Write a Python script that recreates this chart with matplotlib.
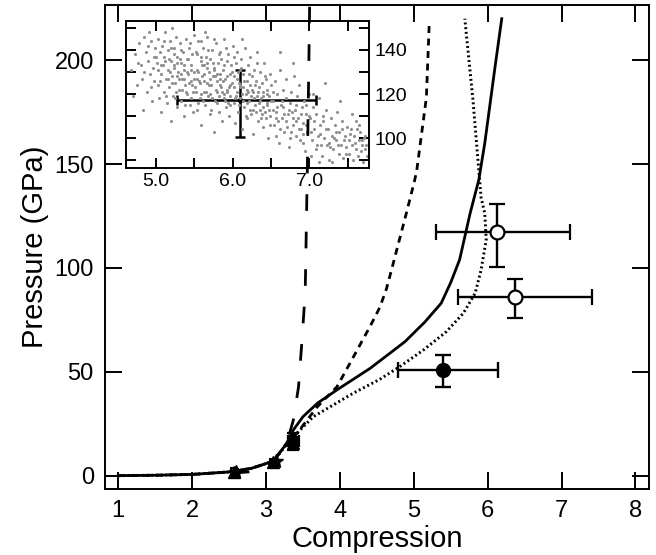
import matplotlib
matplotlib.use('Agg')
import numpy as np
import matplotlib.pyplot as plt

plt.rcParams['font.family'] = ['Liberation Sans', 'DejaVu Sans']
plt.rcParams['lines.scale_dashes'] = False

# model curves, pressure (GPa) against compression
solid_x = [1.0, 1.5, 2.0, 2.5, 2.8, 3.1, 3.28, 3.37, 3.5, 3.7, 3.96, 4.41, 4.88,
           5.15, 5.37, 5.5, 5.62, 5.76, 5.88, 5.96, 6.1, 6.19]
solid_y = [0, 0.2, 0.6, 1.8, 3.5, 7, 15.6, 22, 28.4, 35, 41.3, 51.7, 64.5,
           74, 83, 93, 104, 126, 142.5, 160, 197, 220]

dash_x = [1.0, 1.5, 2.0, 2.5, 2.8, 3.1, 3.28, 3.41, 3.69, 3.96, 4.18, 4.41, 4.54,
          4.63, 4.72, 4.90, 5.01, 5.04, 5.17, 5.21]
dash_y = [0, 0.2, 0.6, 1.8, 3.5, 7, 15.6, 20, 33, 42.8, 57, 72, 81,
          90, 102, 126.5, 142, 147, 182, 219]

dot_x = [1.0, 1.5, 2.0, 2.5, 2.8, 3.1, 3.28, 3.46, 3.64, 4.18, 4.54, 4.81, 5.13,
         5.44, 5.67, 5.83, 5.91, 5.98, 5.96, 5.91, 5.80, 5.69]
dot_y = [0, 0.2, 0.6, 1.8, 3.5, 7, 15, 22, 28.4, 39.7, 46.4, 52.5, 60.5,
         69.3, 78.2, 87.8, 99, 113.5, 126.3, 134, 181, 220]

longdash_x = [2.55, 2.9, 3.1, 3.28, 3.37, 3.44, 3.48, 3.53, 3.56, 3.59]
longdash_y = [1.2, 2.2, 7, 15.6, 26.8, 42.8, 62, 88, 150, 226]

# measurements with error bars
fill_x, fill_y = [5.40], [51]
fill_xerr = [[0.61], [0.74]]
fill_yerr = [[8.2], [7.2]]

open_x = [6.13, 6.37]
open_y = [117.5, 86.2]
open_xerr = [[0.83, 0.77], [0.99, 1.04]]
open_yerr = [[17.2, 10.4], [13.5, 8.7]]

# low pressure points
tri_x, tri_y = [2.57, 3.10, 3.36], [2.0, 6.5, 15.5]
star_x, star_y = [2.59, 3.13], [1.8, 7.0]
sq_x, sq_y = [3.37], [16.5]

# inset: sample cloud and its mean
cloud = [
    (4.68, 131), (4.72, 138), (4.75, 124), (4.78, 143), (4.80, 133), (4.82, 127), (4.85, 146),
    (4.87, 139), (4.88, 121), (4.90, 135), (4.92, 129), (4.94, 144), (4.95, 117), (4.97, 137),
    (4.98, 126), (4.70, 119), (4.83, 113), (4.91, 148), (4.96, 132), (4.99, 141),
    (5.01, 134), (5.02, 124), (5.03, 145), (5.04, 118), (5.05, 139), (5.06, 129), (5.07, 112),
    (5.08, 142), (5.09, 133), (5.10, 121), (5.11, 137), (5.12, 148), (5.13, 127), (5.14, 116),
    (5.15, 140), (5.16, 131), (5.17, 123), (5.18, 144), (5.19, 108), (5.20, 135), (5.21, 128),
    (5.22, 119), (5.23, 141), (5.24, 132), (5.25, 125), (5.26, 146), (5.27, 114), (5.28, 137),
    (5.29, 130), (5.30, 122), (5.31, 143), (5.32, 134), (5.33, 117), (5.34, 127), (5.35, 139),
    (5.36, 110), (5.37, 131), (5.38, 124), (5.39, 145), (5.40, 136), (5.41, 120), (5.42, 129),
    (5.43, 141), (5.44, 115), (5.45, 133), (5.46, 126), (5.47, 138), (5.48, 121), (5.49, 147),
    (5.50, 130), (5.05, 126), (5.12, 135), (5.18, 130), (5.24, 138), (5.30, 127), (5.36, 133),
    (5.42, 136), (5.47, 124), (5.03, 131), (5.15, 127), (5.27, 134), (5.33, 129), (5.39, 121),
    (5.45, 118), (5.21, 150),
    (5.51, 123), (5.52, 139), (5.53, 113), (5.54, 131), (5.55, 144), (5.56, 126), (5.57, 118),
    (5.58, 135), (5.59, 106), (5.60, 128), (5.61, 141), (5.62, 121), (5.63, 133), (5.64, 115),
    (5.65, 137), (5.66, 125), (5.67, 146), (5.68, 119), (5.69, 130), (5.70, 111), (5.71, 136),
    (5.72, 124), (5.73, 140), (5.74, 128), (5.75, 103), (5.76, 132), (5.77, 117), (5.78, 143),
    (5.79, 126), (5.80, 121), (5.81, 134), (5.82, 112), (5.83, 129), (5.84, 139), (5.85, 123),
    (5.86, 108), (5.87, 131), (5.88, 118), (5.89, 145), (5.90, 127), (5.91, 114), (5.92, 135),
    (5.93, 122), (5.94, 138), (5.95, 110), (5.96, 129), (5.97, 119), (5.98, 133), (5.99, 125),
    (6.00, 142), (5.53, 127), (5.58, 120), (5.62, 129), (5.66, 132), (5.71, 120), (5.74, 134),
    (5.79, 116), (5.83, 124), (5.87, 126), (5.92, 121), (5.96, 124), (5.55, 116), (5.64, 148),
    (5.69, 124), (5.77, 128), (5.85, 136), (5.94, 116), (5.60, 133), (5.72, 113), (5.89, 120),
    (6.01, 116), (6.02, 128), (6.03, 107), (6.04, 134), (6.05, 121), (6.06, 139), (6.07, 112),
    (6.08, 125), (6.09, 131), (6.10, 118), (6.11, 136), (6.12, 104), (6.13, 123), (6.14, 129),
    (6.15, 114), (6.16, 141), (6.17, 120), (6.18, 126), (6.19, 109), (6.20, 133), (6.21, 117),
    (6.22, 124), (6.23, 137), (6.24, 111), (6.25, 128), (6.26, 102), (6.27, 121), (6.28, 131),
    (6.29, 115), (6.30, 126), (6.31, 119), (6.32, 139), (6.33, 108), (6.34, 123), (6.35, 113),
    (6.36, 130), (6.37, 118), (6.38, 125), (6.39, 105), (6.40, 121), (6.41, 134), (6.42, 112),
    (6.43, 127), (6.44, 116), (6.45, 122), (6.46, 100), (6.47, 119), (6.48, 129), (6.49, 110),
    (6.50, 124), (6.04, 119), (6.09, 123), (6.14, 117), (6.19, 122), (6.24, 119), (6.29, 124),
    (6.34, 116), (6.39, 114), (6.44, 120), (6.07, 130), (6.17, 110), (6.27, 113), (6.37, 109),
    (6.47, 113), (6.12, 145),
    (6.52, 117), (6.54, 106), (6.55, 126), (6.57, 112), (6.58, 120), (6.60, 98), (6.61, 131),
    (6.63, 115), (6.64, 109), (6.66, 122), (6.67, 103), (6.69, 118), (6.70, 127), (6.72, 111),
    (6.73, 96), (6.75, 116), (6.76, 121), (6.78, 106), (6.79, 134), (6.81, 113), (6.82, 101),
    (6.84, 119), (6.85, 109), (6.87, 124), (6.88, 99), (6.90, 114), (6.91, 107), (6.93, 117),
    (6.94, 94), (6.96, 111), (6.97, 103), (6.99, 120), (6.53, 113), (6.59, 108), (6.65, 114),
    (6.71, 105), (6.77, 112), (6.83, 108), (6.89, 104), (6.95, 115), (6.62, 139), (6.80, 128),
    (6.56, 101), (6.74, 100), (6.92, 98),
    (7.01, 109), (7.03, 99), (7.04, 114), (7.06, 104), (7.08, 95), (7.09, 111), (7.11, 101),
    (7.13, 118), (7.14, 106), (7.16, 92), (7.18, 108), (7.19, 100), (7.21, 113), (7.23, 97),
    (7.24, 104), (7.26, 90), (7.28, 109), (7.29, 101), (7.31, 95), (7.33, 106), (7.34, 99),
    (7.36, 112), (7.38, 93), (7.39, 103), (7.41, 97), (7.43, 108), (7.44, 91), (7.46, 101),
    (7.48, 96), (7.49, 105), (7.05, 120), (7.15, 97), (7.25, 98), (7.35, 103), (7.45, 99),
    (7.12, 89), (7.30, 89), (7.40, 117), (7.20, 125), (7.02, 92),
    (7.51, 99), (7.52, 93), (7.54, 104), (7.55, 97), (7.57, 90), (7.58, 101), (7.60, 95),
    (7.61, 108), (7.63, 92), (7.64, 99), (7.66, 103), (7.67, 94), (7.69, 97), (7.70, 89),
    (7.72, 101), (7.73, 95), (7.75, 92), (7.56, 111), (7.65, 106), (7.71, 100),
    (5.21, 125), (5.23, 133), (5.26, 121), (5.28, 128), (5.31, 136), (5.34, 122), (5.37, 127),
    (5.40, 130), (5.43, 125), (5.46, 131), (5.49, 127), (5.52, 121), (5.55, 130), (5.57, 125),
    (5.59, 137), (5.61, 117), (5.63, 126), (5.65, 121), (5.67, 134), (5.70, 127), (5.73, 118),
    (5.75, 131), (5.78, 122), (5.80, 129), (5.82, 119), (5.84, 127), (5.86, 121), (5.88, 133),
    (5.90, 117), (5.93, 128), (5.95, 123), (5.97, 115), (5.99, 130), (6.01, 123), (6.03, 118),
    (6.05, 127), (6.08, 115), (6.10, 124), (6.12, 120), (6.15, 126), (6.18, 116), (6.20, 121),
    (6.22, 113), (6.25, 122), (6.28, 118), (6.30, 112), (6.33, 121), (6.35, 117), (6.38, 111),
    (6.40, 119), (6.43, 109), (6.45, 115), (6.48, 106), (6.50, 117), (6.53, 121), (6.56, 109),
    (6.58, 114), (6.61, 104), (6.64, 117), (6.67, 111), (6.70, 108), (6.73, 113), (6.76, 103),
    (6.79, 109), (6.82, 115), (6.86, 104), (6.89, 111), (6.92, 102), (6.96, 106), (6.99, 110),
    (7.02, 103), (7.06, 108), (7.10, 97), (7.14, 102), (7.17, 110), (7.22, 104), (7.27, 96),
    (7.32, 100), (7.37, 97), (7.42, 104), (7.47, 93), (7.53, 102), (7.59, 98), (7.62, 104),
    (7.68, 99), (7.74, 97), (4.76, 134), (4.84, 130), (4.89, 142), (4.93, 123), (5.00, 137),
    (5.07, 133), (5.10, 144), (5.13, 119), (5.17, 136), (5.19, 141), (5.25, 118), (5.32, 140),
    (5.38, 115), (5.44, 143), (5.48, 112), (5.54, 138), (5.58, 144), (5.68, 140), (5.75, 145),
    (5.82, 138), (5.91, 141), (6.02, 137), (6.11, 132), (6.21, 129), (6.31, 134), (6.42, 128),
]
mean_x, mean_y = [6.1], [117.5]
mean_xerr = [[0.83], [0.99]]
mean_yerr = [[16.9], [13.5]]

fig = plt.figure(figsize=(6.56, 5.55), dpi=100)
ax = fig.add_axes([0.160, 0.119, 0.829, 0.872])

ax.plot(solid_x, solid_y, color='k', lw=2.0)
ax.plot(dash_x, dash_y, color='k', lw=2.0, dashes=(5, 4))
ax.plot(dot_x, dot_y, color='k', lw=2.1, dashes=(1.4, 2.0))

ax.errorbar(fill_x, fill_y, xerr=fill_xerr, yerr=fill_yerr, fmt='o', ms=10,
            mfc='k', mec='k', ecolor='k', elinewidth=1.7, capsize=5.7, capthick=1.7)
ax.errorbar(open_x, open_y, xerr=open_xerr, yerr=open_yerr, fmt='o', ms=10,
            mfc='white', mec='k', mew=1.6, ecolor='k', elinewidth=1.7,
            capsize=5.7, capthick=1.7, zorder=3)

ax.errorbar(tri_x, tri_y, xerr=0.05, yerr=1.5, fmt='^', ms=8, color='k',
            elinewidth=1.5, capsize=3, capthick=1.5)
ax.plot(star_x, star_y, '*', ms=10, color='k')
ax.errorbar(sq_x, sq_y, xerr=0.07, yerr=4, fmt='s', ms=7, color='k',
            elinewidth=1.6, capsize=4, capthick=1.6)

ax.set_xlim(0.82, 8.18)
ax.set_ylim(-6.4, 226.6)
ax.set_xticks(range(1, 9))
ax.set_yticks([0, 50, 100, 150, 200])
ax.tick_params(direction='in', length=12, width=1.4, top=True, right=True,
               labelsize=17, pad=8)
for sp in ax.spines.values():
    sp.set_linewidth(1.4)
ax.set_xlabel('Compression', fontsize=21, labelpad=2)
ax.set_ylabel('Pressure (GPa)', fontsize=21, labelpad=4)

# inset
ins = fig.add_axes([0.1916, 0.6978, 0.3714, 0.2638])
cloud = np.array(cloud)
ins.errorbar(mean_x, mean_y, xerr=mean_xerr, yerr=mean_yerr, fmt='o', ms=3,
             color='k', elinewidth=1.8, capsize=3.5, capthick=1.8, zorder=1)
ins.scatter(cloud[:, 0], cloud[:, 1], s=5, color='#909090', linewidths=0, zorder=2)
ins.set_xlim(4.605, 7.78)
ins.set_ylim(86.6, 153)
ins.set_xticks([5, 6, 7])
ins.set_xticklabels(['5.0', '6.0', '7.0'])
ins.set_xticks([5.5, 6.5, 7.5], minor=True)
ins.set_yticks([100, 120, 140])
ins.set_yticks([90, 110, 130, 150], minor=True)
ins.tick_params(which='both', direction='in', length=7, width=1.4, top=True,
                right=True, left=True, labelleft=False, labelright=True,
                labelsize=14, pad=4)
for sp in ins.spines.values():
    sp.set_linewidth(1.4)

# long dashed curve drawn over the inset
top = fig.add_axes(ax.get_position())
top.set_xlim(ax.get_xlim())
top.set_ylim(ax.get_ylim())
top.axis('off')
top.plot(longdash_x, longdash_y, color='k', lw=2.0, dashes=(12, 15))

fig.savefig('out.png', dpi=100)
